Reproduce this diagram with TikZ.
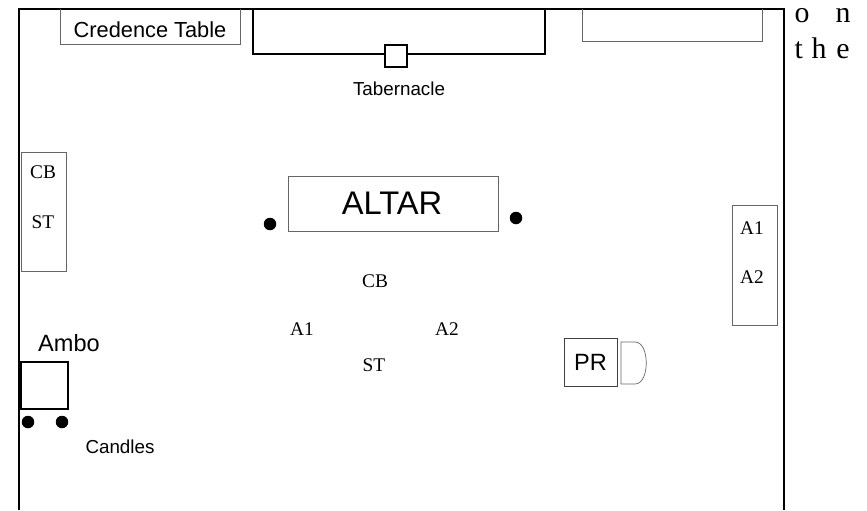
\documentclass[tikz,border=0pt]{standalone}
\usepackage{fontspec}
\setmainfont{Liberation Serif}
\setsansfont{Liberation Sans}
\tikzset{
  heavy/.style={line width=.57pt},
  thin box/.style={draw=black!60,line width=.2pt},
  candle/.style={circle,fill=black,inner sep=0pt,minimum size=.125cm},
  small/.style={font=\fontsize{5.5}{6}\selectfont},
  sanssmall/.style={font=\sffamily\fontsize{5.35}{6}\selectfont},
  sansmid/.style={font=\sffamily\fontsize{6.7}{7}\selectfont},
  edgetext/.style={anchor=base west,inner sep=0pt,font=\fontsize{8.5}{9}\selectfont},
}
\begin{document}
\begin{tikzpicture}
\useasboundingbox (0,0) rectangle (8.67,5.10);
\fill[white] (0,0) rectangle (8.67,5.10);

% sanctuary walls, open at the bottom
\draw[heavy] (.19,0) -- (.19,5.01) -- (7.84,5.01) -- (7.84,0);

% tables along the back
\draw[thin box] (.60,5.01) -- (.60,4.66) -- (2.40,4.66) -- (2.40,5.01);
\node[font=\sffamily\fontsize{6.2}{7}\selectfont] (credence) at (1.50,4.80) {Credence Table};
\draw[thin box] (5.82,5.01) -- (5.82,4.69) -- (7.62,4.69) -- (7.62,5.01);
\draw[heavy] (2.53,5.01) -- (2.53,4.56) -- (5.45,4.56) -- (5.45,5.01);
\draw[heavy,fill=white] (3.85,4.65) rectangle (4.07,4.43);
\node[sanssmall] (tabernacle) at (3.99,4.21) {Tabernacle};

% text running past the edge
\node[edgetext] (on) at (7.94,4.88) {o\hspace{.87em}n};
\node[edgetext] (the) at (7.94,4.52) {t\hspace{.29em}h\hspace{.33em}e};

% left server bench
\draw[thin box] (.21,3.58) rectangle (.66,2.39);
\node[small] (cbleft) at (.43,3.38) {CB};
\node[small] (stleft) at (.43,2.88) {ST};

% altar
\draw[thin box] (2.88,3.34) rectangle (4.98,2.79);
\node[font=\sffamily\fontsize{9.3}{10}\selectfont] (altar) at (3.92,3.07) {ALTAR};
\node[candle] (altarleft) at (2.70,2.86) {};
\node[candle] (altarright) at (5.16,2.92) {};

% servers in front of the altar
\node[small] (cb) at (3.75,2.29) {CB};
\node[small] (aone) at (3.02,1.81) {A1};
\node[small] (atwo) at (4.47,1.81) {A2};
\node[small] (st) at (3.74,1.45) {ST};

% right server bench
\draw[thin box] (7.32,3.05) rectangle (7.77,1.85);
\node[small] (aoneright) at (7.52,2.82) {A1};
\node[small] (atworight) at (7.52,2.33) {A2};

% presider
\node[draw=black!75,line width=.2pt,sansmid,minimum width=.53cm,minimum height=.48cm,inner sep=0pt] (pr) at (5.905,1.48) {PR};
\draw[thin box] (6.21,1.68) -- (6.35,1.68) .. controls (6.50,1.68) and (6.50,1.26) .. (6.35,1.26) -- (6.21,1.26) -- cycle;

% ambo
\node[sansmid] (ambotext) at (.69,1.67) {Ambo};
\node[draw,line width=.45pt,minimum size=.47cm,inner sep=0pt] (ambo) at (.445,1.245) {};
\node[candle] (candleone) at (.28,.88) {};
\node[candle] (candletwo) at (.62,.88) {};
\node[sanssmall] (candles) at (1.20,.63) {Candles};

\end{tikzpicture}
\end{document}
